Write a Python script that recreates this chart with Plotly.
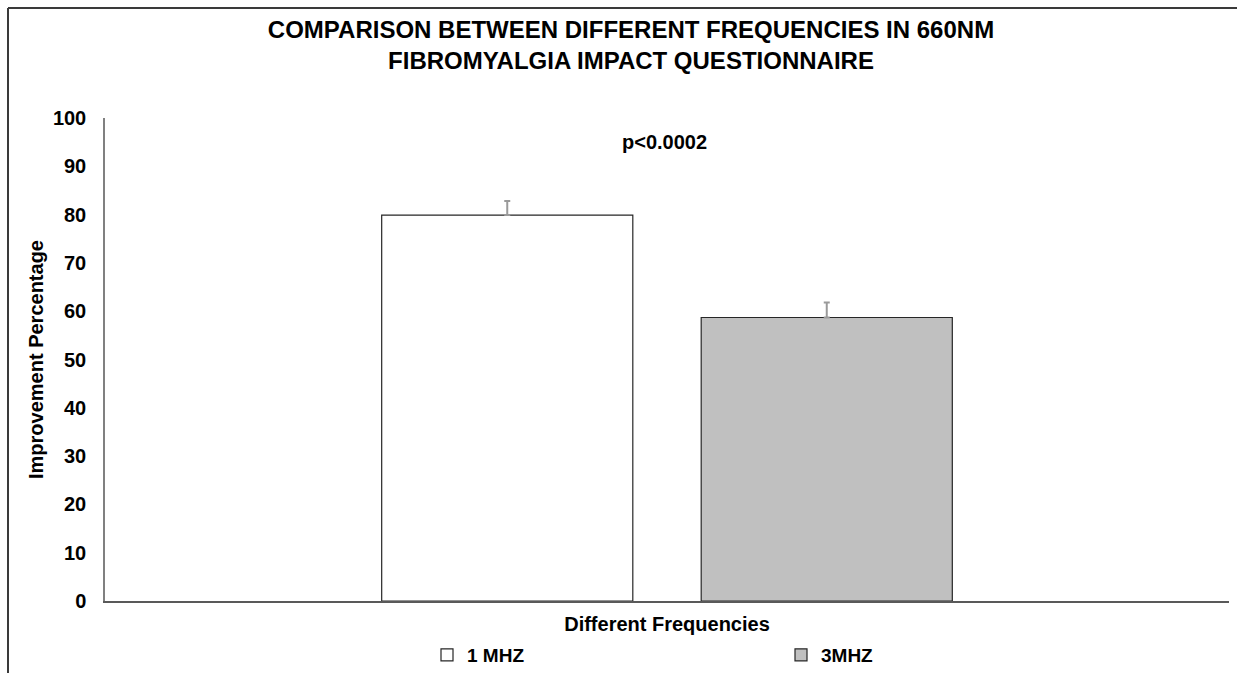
import plotly.graph_objects as go

# ---- data ----
category = ["Different Frequencies"]
series_names = ["1 MHZ", "3MHZ"]
values = [79.9, 58.7]
errors = [2.9, 3.1]
fill_colors = ["#FFFFFF", "#C0C0C0"]
y_ticks = [0, 10, 20, 30, 40, 50, 60, 70, 80, 90, 100]

W, H = 1237, 673
ML, MR, MT, MB = 105, 8, 118, 72
PW = W - ML - MR
PH = H - MT - MB

FONT = "Liberation Sans, Arial, sans-serif"

fig = go.Figure()
for name, v, e, c in zip(series_names, values, errors, fill_colors):
    fig.add_trace(go.Bar(
        x=category, y=[v], name=name,
        marker=dict(color=c, line=dict(color="#262626", width=1.2)),
        error_y=dict(type="data", array=[e], arrayminus=[0], symmetric=False,
                     color="#9A9A9A", thickness=2, width=3),
    ))

def px_to_paper_x(px):
    return (px - ML) / PW

def px_to_paper_y(py):
    return (H - MB - py) / PH

border = dict(color="#3A3A3A", width=2)
fig.add_shape(type="line", xref="paper", yref="paper",
              x0=px_to_paper_x(8), x1=px_to_paper_x(W + 5),
              y0=px_to_paper_y(8), y1=px_to_paper_y(8), line=border)
fig.add_shape(type="line", xref="paper", yref="paper",
              x0=px_to_paper_x(8), x1=px_to_paper_x(8),
              y0=px_to_paper_y(8), y1=px_to_paper_y(H + 5), line=border)

fig.add_annotation(text="p<0.0002", xref="paper", yref="y",
                   x=px_to_paper_x(664), y=95, showarrow=False,
                   font=dict(family=FONT, size=20, color="#000", weight="bold"))

fig.update_layout(
    width=W, height=H,
    margin=dict(l=ML, r=MR, t=MT, b=MB, pad=0, autoexpand=False),
    paper_bgcolor="white", plot_bgcolor="white",
    barmode="group", bargap=0.4315, bargroupgap=0.214,
    title=dict(text="COMPARISON BETWEEN DIFFERENT FREQUENCIES IN 660NM<br>FIBROMYALGIA IMPACT QUESTIONNAIRE",
               x=px_to_paper_x(631), xref="paper", xanchor="center",
               y=1 - 38 / H, yref="container", yanchor="top",
               font=dict(family=FONT, size=24, color="#000", weight="bold")),
    font=dict(family=FONT, color="#000"),
    showlegend=True,
    legend=dict(orientation="h", x=px_to_paper_x(427), xanchor="left",
                y=px_to_paper_y(636), yanchor="top",
                entrywidth=309, entrywidthmode="pixels",
                font=dict(family=FONT, size=19, color="#000", weight="bold"),
                bgcolor="rgba(0,0,0,0)", traceorder="normal"),
    xaxis=dict(showticklabels=False, ticks="", showgrid=False, zeroline=False,
               showline=True, linecolor="#595959", linewidth=1.5,
               title=dict(text="Different Frequencies", standoff=15,
                          font=dict(family=FONT, size=20, color="#000", weight="bold"))),
    yaxis=dict(range=[0, 100], tickvals=y_ticks, ticks="", showgrid=False,
               zeroline=False, showline=True, linecolor="#808080", linewidth=1.5,
               ticklabelstandoff=13,
               tickfont=dict(family=FONT, size=20, color="#000", weight="bold"),
               title=dict(text="Improvement Percentage", standoff=4,
                          font=dict(family=FONT, size=20, color="#000", weight="bold"))),
)

fig.write_html("out.html")
